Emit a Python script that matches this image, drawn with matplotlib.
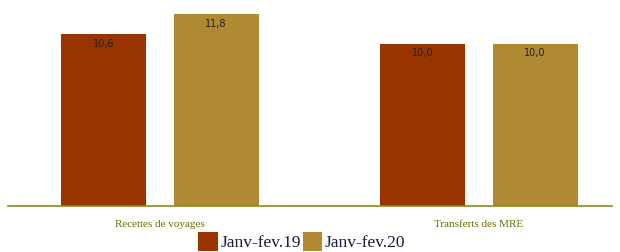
import matplotlib
matplotlib.use("Agg")
import matplotlib.pyplot as plt
import numpy as np

categories = ["Recettes de voyages", "Transferts des MRE"]
series_names = ["Janv-fev.19", "Janv-fev.20"]
values_19 = [10.6, 10.0]
values_20 = [11.8, 10.0]
colors = ["#993300", "#B08A33"]

fig = plt.figure(figsize=(6.2, 2.52), dpi=100)
ax = fig.add_axes([8/620, 1 - 206/252, 604/620, 206/252])

x = np.arange(len(categories))
w = 0.266
off = 0.176
b1 = ax.bar(x - off, values_19, w, color=colors[0], label=series_names[0])
b2 = ax.bar(x + off, values_20, w, color=colors[1], label=series_names[1])

for bars, vals in ((b1, values_19), (b2, values_20)):
    for rect, v in zip(bars, vals):
        ax.text(rect.get_x() + rect.get_width() / 2, rect.get_height() - 0.3,
                f"{v:.1f}".replace(".", ","), ha="center", va="top",
                fontsize=7, color="#222222", family="DejaVu Sans")

ax.set_xlim(-0.4765, 1.417)
ax.set_ylim(0, 12.68)
ax.set_yticks([])
ax.set_xticks(x)
ax.set_xticklabels(categories, family="Liberation Serif", fontsize=8, color="#6E6E00")
ax.tick_params(axis="x", length=0, pad=10)
for s in ("top", "right", "left"):
    ax.spines[s].set_visible(False)
ax.spines["bottom"].set_color("#8B8B1A")
ax.spines["bottom"].set_linewidth(1.2)

leg = fig.legend(loc="lower center", bbox_to_anchor=(0.487, -0.06), ncol=2, frameon=False,
                 prop={"family": "Liberation Serif", "size": 12.5},
                 handlelength=1.1, handleheight=1.3, handletextpad=0.15, columnspacing=0.15,
                 labelcolor="#1A1A40")
fig.savefig("out.png", dpi=100)
